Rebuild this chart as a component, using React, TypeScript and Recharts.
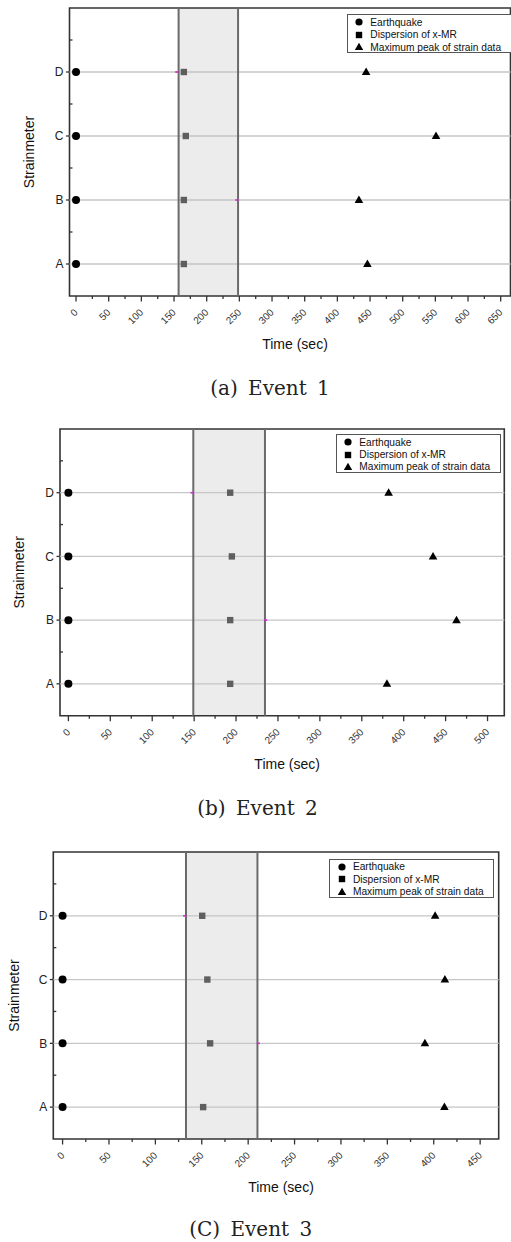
import React from 'react';
import { ScatterChart, Scatter, XAxis, YAxis, ReferenceArea, ReferenceLine } from 'recharts';

// strainmeter rows, bottom to top
const strainmeters = ['A', 'B', 'C', 'D'];
const yTicks = [1, 1.5, 2, 2.5, 3, 3.5, 4, 4.5];

// Event 1 (values in seconds, ordered A, B, C, D)
const event1Quake = [0, 0, 0, 0];
const event1Dispersion = [165, 165, 168, 165];
const event1Peak = [446, 433, 551, 444];
const event1Band = [157, 248];
const event1Edge = [{ x: 154, y: 4 }, { x: 246, y: 2 }];
const event1Ticks = [0, 25, 50, 75, 100, 125, 150, 175, 200, 225, 250, 275, 300, 325, 350, 375, 400, 425, 450, 475, 500, 525, 550, 575, 600, 625, 650];

// Event 2
const event2Quake = [0, 0, 0, 0];
const event2Dispersion = [193, 193, 195, 193];
const event2Peak = [380, 463, 435, 382];
const event2Band = [149, 234.5];
const event2Edge = [{ x: 147.5, y: 4 }, { x: 235.5, y: 2 }];
const event2Ticks = [0, 25, 50, 75, 100, 125, 150, 175, 200, 225, 250, 275, 300, 325, 350, 375, 400, 425, 450, 475, 500];

// Event 3
const event3Quake = [0, 0, 0, 0];
const event3Dispersion = [151.5, 159, 156, 150.5];
const event3Peak = [411.5, 390.5, 412, 401.5];
const event3Band = [133, 210];
const event3Edge = [{ x: 131.5, y: 4 }, { x: 211, y: 2 }];
const event3Ticks = [0, 25, 50, 75, 100, 125, 150, 175, 200, 225, 250, 275, 300, 325, 350, 375, 400, 425, 450];

const FONT = 'Arial, "Liberation Sans", sans-serif';
const MARGIN_TOP = 5;
const MARGIN_BOTTOM = 10;
const XAXIS_H = 53;

const toPoints = (values: number[]) => values.map((v, i) => ({ x: v, y: i + 1 }));

const CircleShape = (p: any) => <circle cx={p.cx} cy={p.cy} r={4} fill="#000" />;
const SquareShape = (p: any) => (
  <rect x={p.cx - 3.2} y={p.cy - 3.2} width={6.4} height={6.4} fill="#5f5f5f" />
);
const TriangleShape = (p: any) => (
  <polygon points={`${p.cx},${p.cy - 4.5} ${p.cx + 4.3},${p.cy + 3} ${p.cx - 4.3},${p.cy + 3}`} fill="#000" />
);
const EdgeShape = (p: any) => (
  <rect x={p.cx - 1.5} y={p.cy - 0.8} width={3} height={1.6} fill="#e020e0" />
);

interface PanelProps {
  top: number;
  bottom: number;
  left: number;
  right: number;
  domain: [number, number];
  ticks: number[];
  quake: number[];
  dispersion: number[];
  peak: number[];
  band: number[];
  edge: { x: number; y: number }[];
  yLabelX: number;
  legend: { left: number; top: number };
  caption: { text: string; x: number; y: number };
}

const LegendBox: React.FC<{ left: number; top: number }> = ({ left, top }) => {
  const rows = [
    { label: 'Earthquake', icon: <circle cx={6} cy={6} r={3.6} fill="#000" /> },
    { label: 'Dispersion of x-MR', icon: <rect x={2.8} y={2.8} width={6.4} height={6.4} fill="#000" /> },
    { label: 'Maximum peak of strain data', icon: <polygon points="6,1.8 10.2,9 1.8,9" fill="#000" /> },
  ];
  return (
    <div
      style={{
        position: 'absolute',
        left,
        top,
        width: 165,
        height: 39,
        boxSizing: 'border-box',
        border: '1px solid #555',
        background: '#fff',
        fontFamily: FONT,
        fontSize: 10.2,
        color: '#111',
        paddingTop: 1,
      }}
    >
      {rows.map((r) => (
        <div key={r.label} style={{ display: 'flex', alignItems: 'center', height: 12.4 }}>
          <svg width={12} height={12} style={{ marginLeft: 5.6, marginRight: 5 }}>
            {r.icon}
          </svg>
          <span style={{ whiteSpace: 'nowrap' }}>{r.label}</span>
        </div>
      ))}
    </div>
  );
};

const Panel: React.FC<PanelProps> = (props) => {
  const plotH = props.bottom - props.top;
  const height = MARGIN_TOP + plotH + XAXIS_H + MARGIN_BOTTOM;
  const plotBottom = MARGIN_TOP + plotH;
  const plotLeft = props.left;

  const XTick = (t: any) => {
    const v = t.payload.value;
    const major = v % 50 === 0;
    const ax = t.x + 2.5;
    const ay = plotBottom + 17;
    return (
      <g>
        <line x1={t.x} x2={t.x} y1={plotBottom} y2={plotBottom + (major ? 5.5 : 3)} stroke="#333" strokeWidth={1.3} />
        {major && (
          <text
            x={ax}
            y={ay}
            transform={`rotate(-45 ${ax} ${ay})`}
            textAnchor="end"
            fontSize={10}
            fontFamily={FONT}
            fill="#333"
          >
            {v}
          </text>
        )}
      </g>
    );
  };

  const YTick = (t: any) => {
    const v = t.payload.value;
    const major = Number.isInteger(v);
    return (
      <g>
        {major ? (
          <>
            <line x1={plotLeft - 3.5} x2={plotLeft} y1={t.y} y2={t.y} stroke="#333" strokeWidth={1.3} />
            <text x={plotLeft - 6} y={t.y + 4.3} textAnchor="end" fontSize={12} fontFamily={FONT} fill="#222">
              {strainmeters[v - 1]}
            </text>
          </>
        ) : (
          <line x1={plotLeft} x2={plotLeft + 3} y1={t.y} y2={t.y} stroke="#333" strokeWidth={1.3} />
        )}
      </g>
    );
  };

  return (
    <>
      <div style={{ position: 'absolute', left: 0, top: props.top - MARGIN_TOP, width: 511, height }}>
        <ScatterChart
          width={511}
          height={height}
          margin={{ top: MARGIN_TOP, right: 511 - props.right, left: 0, bottom: MARGIN_BOTTOM }}
        >
          <XAxis
            type="number"
            dataKey="x"
            domain={props.domain}
            allowDataOverflow
            ticks={props.ticks}
            interval={0}
            height={XAXIS_H}
            tickLine={false}
            tickSize={0}
            axisLine={false}
            tick={XTick}
            label={{
              value: 'Time (sec)',
              position: 'insideBottom',
              offset: 0,
              dx: 5,
              fontSize: 14,
              fontFamily: FONT,
              fill: '#111',
            }}
          />
          <YAxis
            type="number"
            dataKey="y"
            domain={[0.5, 5]}
            allowDataOverflow
            ticks={yTicks}
            interval={0}
            width={props.left}
            tickLine={false}
            tickSize={0}
            axisLine={false}
            tick={YTick}
            label={{
              value: 'Strainmeter',
              angle: -90,
              position: 'insideLeft',
              offset: props.yLabelX,
              fontSize: 14,
              fontFamily: FONT,
              fill: '#111',
              style: { textAnchor: 'middle' },
            }}
          />
          <ReferenceArea x1={props.band[0]} x2={props.band[1]} y1={0.5} y2={5} fill="#ececec" fillOpacity={1} stroke="none" />
          {strainmeters.map((s, i) => (
            <ReferenceLine key={s} y={i + 1} stroke="#c6c6c6" strokeWidth={1.3} />
          ))}
          <ReferenceLine x={props.band[0]} stroke="#6a6a6a" strokeWidth={2} />
          <ReferenceLine x={props.band[1]} stroke="#6a6a6a" strokeWidth={2} />
          <ReferenceArea
            x1={props.domain[0]}
            x2={props.domain[1]}
            y1={0.5}
            y2={5}
            fill="none"
            stroke="#333"
            strokeWidth={1.6}
          />
          <Scatter name="Earthquake" data={toPoints(props.quake)} shape={CircleShape} isAnimationActive={false} />
          <Scatter name="Dispersion of x-MR" data={toPoints(props.dispersion)} shape={SquareShape} isAnimationActive={false} />
          <Scatter name="Maximum peak of strain data" data={toPoints(props.peak)} shape={TriangleShape} isAnimationActive={false} />
          <Scatter name="edge" data={props.edge} shape={EdgeShape} isAnimationActive={false} />
        </ScatterChart>
      </div>
      <LegendBox left={props.legend.left} top={props.legend.top} />
      <div
        style={{
          position: 'absolute',
          left: props.caption.x - 150,
          top: props.caption.y - 14,
          width: 300,
          height: 28,
          lineHeight: '28px',
          textAlign: 'center',
          fontFamily: '"DejaVu Serif", "Liberation Serif", serif',
          fontSize: 20,
          wordSpacing: 4,
          color: '#222',
          whiteSpace: 'pre',
        }}
      >
        {props.caption.text}
      </div>
    </>
  );
};

export default function App() {
  return (
    <div style={{ position: 'absolute', left: 0, top: 0, width: 511, height: 1242, background: '#fff', overflow: 'hidden' }}>
      <Panel
        top={8}
        bottom={296}
        left={69.5}
        right={510.5}
        domain={[-10, 665]}
        ticks={event1Ticks}
        quake={event1Quake}
        dispersion={event1Dispersion}
        peak={event1Peak}
        band={event1Band}
        edge={event1Edge}
        yLabelX={29}
        legend={{ left: 346.7, top: 14.3 }}
        caption={{ text: '(a) Event 1', x: 270, y: 388 }}
      />
      <Panel
        top={429}
        bottom={715.7}
        left={60}
        right={504.3}
        domain={[-10, 520]}
        ticks={event2Ticks}
        quake={event2Quake}
        dispersion={event2Dispersion}
        peak={event2Peak}
        band={event2Band}
        edge={event2Edge}
        yLabelX={18.7}
        legend={{ left: 335.7, top: 434 }}
        caption={{ text: '(b) Event 2', x: 257.5, y: 808 }}
      />
      <Panel
        top={852.3}
        bottom={1139.3}
        left={53.3}
        right={498.7}
        domain={[-10, 470]}
        ticks={event3Ticks}
        quake={event3Quake}
        dispersion={event3Dispersion}
        peak={event3Peak}
        band={event3Band}
        edge={event3Edge}
        yLabelX={13.8}
        legend={{ left: 329.3, top: 858.7 }}
        caption={{ text: '(C) Event 3', x: 250.7, y: 1229 }}
      />
    </div>
  );
}
